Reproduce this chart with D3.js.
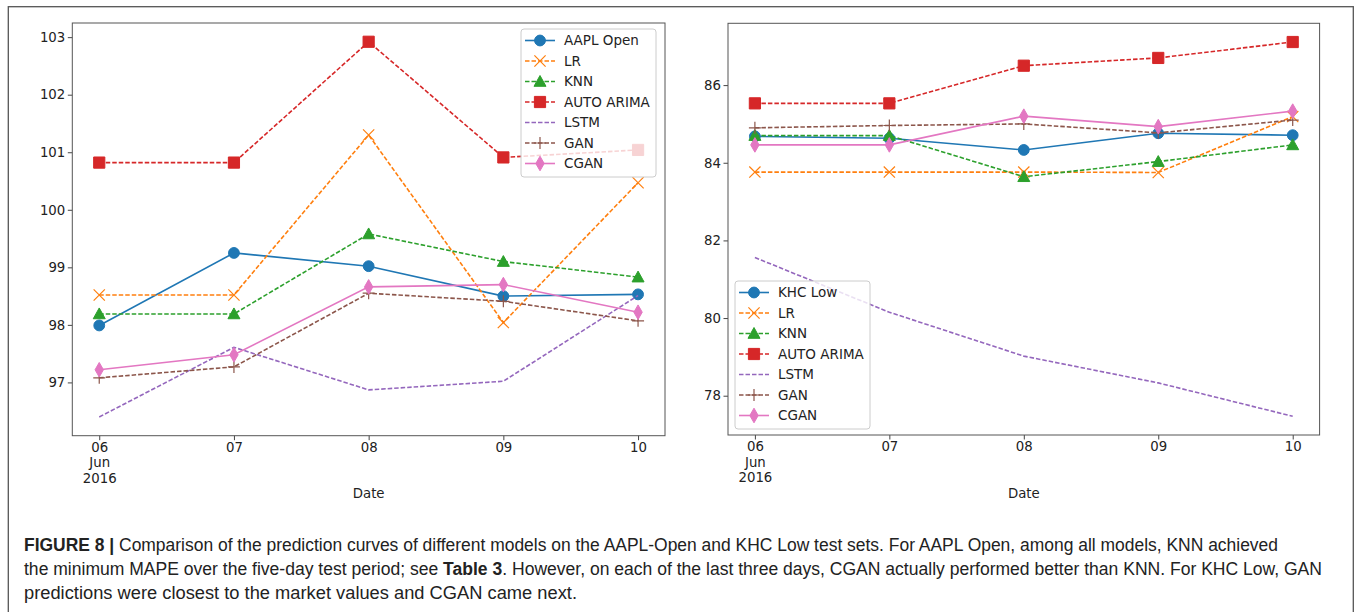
<!DOCTYPE html>
<html>
<head>
<meta charset="utf-8">
<script src="https://cdn.jsdelivr.net/npm/d3@7"></script>
<style>
  body { margin: 0; background: #fff; }
  svg { display: block; }
  .tick text, .lbl, .leg text { font-family: "DejaVu Sans", sans-serif; fill: #222; }
  .cap { font-family: "Liberation Sans", Arial, sans-serif; fill: #222; }
</style>
</head>
<body>
<div id="chart"></div>
<script>
const days = ["2016-06-06", "2016-06-07", "2016-06-08", "2016-06-09", "2016-06-10"];

// AAPL Open panel
const aaplNames = ["AAPL Open", "LR", "KNN", "AUTO ARIMA", "LSTM", "GAN", "CGAN"];
const aaplOpen  = [97.99, 99.25, 99.02, 98.50, 98.53];
const aaplLR    = [98.52, 98.52, 101.30, 98.04, 100.47];
const aaplKNN   = [98.19, 98.19, 99.58, 99.10, 98.83];
const aaplArima = [100.82, 100.82, 102.92, 100.91, 101.04];
const aaplLSTM  = [96.40, 97.61, 96.87, 97.02, 98.51];
const aaplGAN   = [97.08, 97.27, 98.55, 98.41, 98.07];
const aaplCGAN  = [97.22, 97.48, 98.66, 98.70, 98.22];
const aaplTicks = [97, 98, 99, 100, 101, 102, 103];

// KHC Low panel
const khcNames = ["KHC Low", "LR", "KNN", "AUTO ARIMA", "LSTM", "GAN", "CGAN"];
const khcLow   = [84.68, 84.63, 84.33, 84.76, 84.71];
const khcLR    = [83.76, 83.76, 83.76, 83.75, 85.19];
const khcKNN   = [84.70, 84.70, 83.64, 84.03, 84.46];
const khcArima = [85.53, 85.53, 86.50, 86.70, 87.11];
const khcLSTM  = [81.56, 80.15, 79.02, 78.33, 77.47];
const khcGAN   = [84.90, 84.96, 85.00, 84.77, 85.10];
const khcCGAN  = [84.46, 84.46, 85.20, 84.93, 85.33];
const khcTicks = [78, 80, 82, 84, 86];

const captionLines = [
  [["FIGURE 8 |", true], [" Comparison of the prediction curves of different models on the AAPL-Open and KHC Low test sets. For AAPL Open, among all models, KNN achieved", false]],
  [["the minimum MAPE over the five-day test period; see ", false], ["Table 3", true], [". However, on each of the last three days, CGAN actually performed better than KNN. For KHC Low, GAN", false]],
  [["predictions were closest to the market values and CGAN came next.", false]]
];

const styles = [
  { color: "#1f77b4", dash: null, marker: "o" },
  { color: "#ff7f0e", dash: "4.5,2", marker: "x" },
  { color: "#2ca02c", dash: "4.5,2", marker: "^" },
  { color: "#d62728", dash: "4.5,2", marker: "s" },
  { color: "#9467bd", dash: "4.5,2", marker: null },
  { color: "#8c564b", dash: "4.5,2", marker: "+" },
  { color: "#e377c2", dash: null, marker: "d" }
];

const W = 1356, H = 612;
const parseDay = d3.timeParse("%Y-%m-%d");
const dayDates = days.map(parseDay);

const svg = d3.select("#chart").append("svg")
  .attr("width", W).attr("height", H);

svg.append("rect")
  .attr("x", 8.3).attr("y", 6.7)
  .attr("width", 1345).attr("height", 640)
  .attr("fill", "none").attr("stroke", "#555").attr("stroke-width", 1.3);

function markerPath(type) {
  switch (type) {
    case "o": return d3.symbol(d3.symbolCircle, 92)();
    case "s": return "M-5.6,-5.6H5.6V5.6H-5.6Z";
    case "^": return "M0,-6L6,4.8H-6Z";
    case "d": return "M0,-7.3L4.2,0L0,7.3L-4.2,0Z";
    case "x": return "M-5.6,-5.6L5.6,5.6M-5.6,5.6L5.6,-5.6";
    case "+": return "M-6,0H6M0,-6V6";
  }
  return null;
}

function addMarker(sel, st) {
  if (!st.marker) return;
  const open = st.marker === "x" || st.marker === "+";
  sel.append("path")
    .attr("d", markerPath(st.marker))
    .attr("fill", open ? "none" : st.color)
    .attr("stroke", st.color)
    .attr("stroke-width", open ? 1.2 : 1);
}

function drawPanel(p) {
  const g = svg.append("g");
  const pad = 0.2 * 24 * 3600 * 1000;
  const x = d3.scaleTime()
    .domain([+dayDates[0] - pad, +dayDates[4] + pad])
    .range([p.left, p.right]);

  const all = p.series.flat();
  const [lo, hi] = d3.extent(all);
  const m = (hi - lo) * 0.05;
  const y = d3.scaleLinear().domain([lo - m, hi + m]).range([p.bottom, p.top]);

  const line = d3.line()
    .x((d, i) => x(dayDates[i]))
    .y(d => y(d));

  p.series.forEach((vals, k) => {
    const st = styles[k];
    g.append("path")
      .attr("d", line(vals))
      .attr("fill", "none")
      .attr("stroke", st.color)
      .attr("stroke-width", 1.6)
      .attr("stroke-dasharray", st.dash);
    vals.forEach((v, i) => {
      const mk = g.append("g").attr("transform", `translate(${x(dayDates[i])},${y(v)})`);
      addMarker(mk, st);
    });
  });

  // axes
  const xAxis = g.append("g")
    .attr("transform", `translate(0,${p.bottom})`)
    .call(d3.axisBottom(x).tickValues(dayDates).tickFormat(d3.timeFormat("%d"))
      .tickSize(4.5).tickPadding(2));
  const yAxis = g.append("g")
    .attr("transform", `translate(${p.left},0)`)
    .call(d3.axisLeft(y).tickValues(p.ticks).tickSize(4.5).tickPadding(2.5));

  [xAxis, yAxis].forEach(a => {
    a.select(".domain").remove();
    a.selectAll(".tick line").attr("stroke", "#444").attr("stroke-width", 1);
    a.selectAll(".tick text").attr("font-size", 13.3).attr("font-family", null);
  });

  const first = xAxis.select(".tick text");
  first.append("tspan").attr("x", 0).attr("dy", "1.17em").text("Jun");
  first.append("tspan").attr("x", 0).attr("dy", "1.17em").text("2016");
  // keep the first line where it was
  first.each(function () {
    const t = d3.select(this);
    const txt = t.node().firstChild;
    t.node().removeChild(txt);
    t.insert("tspan", "tspan").attr("x", 0).text("06");
  });

  g.append("rect")
    .attr("x", p.left).attr("y", p.top)
    .attr("width", p.right - p.left).attr("height", p.bottom - p.top)
    .attr("fill", "none").attr("stroke", "#555").attr("stroke-width", 1);

  g.append("text").attr("class", "lbl")
    .attr("x", (p.left + p.right) / 2).attr("y", 498)
    .attr("text-anchor", "middle").attr("font-size", 13.3)
    .text("Date");

  // legend
  const lw = 135, lh = 148;
  const lx = p.legend === "upper right" ? p.right - 9 - lw : p.left + 7;
  const ly = p.legend === "upper right" ? p.top + 6 : p.bottom - 6 - lh;
  const leg = g.append("g").attr("class", "leg").attr("transform", `translate(${lx},${ly})`);
  leg.append("rect")
    .attr("width", lw).attr("height", lh).attr("rx", 3)
    .attr("fill", "#fff").attr("fill-opacity", 0.8)
    .attr("stroke", "#ccc").attr("stroke-width", 1);

  const rows = leg.selectAll(".row")
    .data(p.names)
    .enter()
    .append("g")
    .attr("class", "row")
    .attr("transform", (d, i) => `translate(0,${11.5 + i * 20.5})`);

  rows.append("line")
    .attr("x1", 4).attr("x2", 34)
    .attr("stroke", (d, i) => styles[i].color)
    .attr("stroke-width", 1.6)
    .attr("stroke-dasharray", (d, i) => styles[i].dash);
  rows.each(function (d, i) {
    addMarker(d3.select(this).append("g").attr("transform", "translate(19,0)"), styles[i]);
  });
  rows.append("text")
    .attr("x", 43).attr("dy", "0.36em")
    .attr("font-size", 13.5)
    .text(d => d);
}

drawPanel({
  left: 72.3, right: 665, top: 23, bottom: 435.7,
  names: aaplNames,
  series: [aaplOpen, aaplLR, aaplKNN, aaplArima, aaplLSTM, aaplGAN, aaplCGAN],
  ticks: aaplTicks, legend: "upper right"
});

drawPanel({
  left: 728, right: 1319.6, top: 23.3, bottom: 435,
  names: khcNames,
  series: [khcLow, khcLR, khcKNN, khcArima, khcLSTM, khcGAN, khcCGAN],
  ticks: khcTicks, legend: "lower left"
});

// caption
const capWidths = [1254, 1298, 553];
captionLines.forEach((parts, i) => {
  const t = svg.append("text")
    .attr("class", "cap")
    .attr("x", 24).attr("y", 550.5 + i * 24)
    .attr("font-size", 17.5)
    .attr("textLength", capWidths[i])
    .attr("lengthAdjust", "spacingAndGlyphs");
  parts.forEach(([s, bold]) => {
    t.append("tspan").attr("font-weight", bold ? "bold" : null).text(s);
  });
});
</script>
</body>
</html>
